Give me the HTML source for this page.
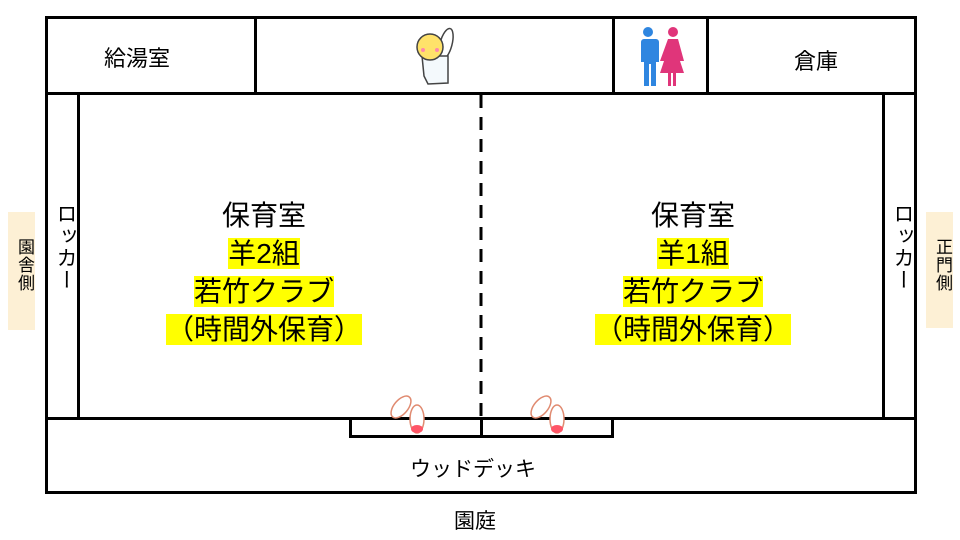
<!DOCTYPE html>
<html><head><meta charset="utf-8"><style>
body{margin:0;width:960px;height:540px;background:#fff;font-family:"Liberation Sans","Noto Sans CJK JP",sans-serif;position:relative;overflow:hidden}
.a{position:absolute;box-sizing:border-box}
.t{position:absolute;color:#000;white-space:nowrap}
.hl{background:#ffff00}
.room{position:absolute;text-align:center;font-size:28px;line-height:38px;width:300px}
.v{writing-mode:vertical-rl;font-size:18px;letter-spacing:1px}
</style></head><body>
<div class="a" style="left:45px;top:16px;width:872px;height:478px;border:3px solid #000"></div>
<div class="a" style="left:45px;top:92px;width:872px;height:3px;background:#000"></div>
<div class="a" style="left:254px;top:16px;width:3px;height:78px;background:#000"></div>
<div class="a" style="left:612px;top:16px;width:3px;height:78px;background:#000"></div>
<div class="a" style="left:706px;top:16px;width:3px;height:78px;background:#000"></div>
<div class="a" style="left:45px;top:92px;width:35px;height:328px;border:3px solid #000"></div>
<div class="a" style="left:882px;top:92px;width:35px;height:328px;border:3px solid #000"></div>
<div class="a" style="left:45px;top:417px;width:872px;height:3px;background:#000"></div>
<svg class="a" style="left:478px;top:95px" width="6" height="322"><line x1="3" y1="0" x2="3" y2="322" stroke="#000" stroke-width="3" stroke-dasharray="13 9"/></svg>
<div class="a" style="left:349px;top:417px;width:265px;height:21px;border:3px solid #000;background:#fff"></div>
<div class="a" style="left:480px;top:417px;width:3px;height:21px;background:#000"></div>
<div class="t" style="left:104px;top:41px;font-size:22px">給湯室</div>
<div class="t" style="left:794px;top:44px;font-size:22px">倉庫</div>
<svg class="a" style="left:404px;top:26px" width="60" height="62" viewBox="0 0 56 62"><ellipse cx="40" cy="18" rx="6" ry="16" fill="#fff" stroke="#444" stroke-width="1.5" transform="rotate(15 40 18)"/><path d="M16 30 L42 30 L42 57 L22 58 L18 50 Z" fill="#f4f9fc" stroke="#444" stroke-width="1.5"/><circle cx="24" cy="21" r="13" fill="#ffe26a" stroke="#444" stroke-width="1.5"/><circle cx="17" cy="24" r="2" fill="#f8a"/><circle cx="31" cy="24" r="2" fill="#f8a"/></svg>
<svg class="a" style="left:628px;top:26px" width="66" height="62" viewBox="0 0 66 62"><circle cx="20" cy="6" r="5" fill="#2f86e0"/><path d="M12 13h16a3 3 0 0 1 3 3v20h-3v24h-5v-22h-2v22h-5v-24h-3v-20a3 3 0 0 1 3-3z" fill="#2f86e0"/><circle cx="45" cy="6" r="5" fill="#e0357a"/><path d="M40 13h10l6 22h-4l4 12h-8v13h-3v-13h-2v13h-3v-13h-8l4-12h-4z" fill="#e0357a"/></svg>
<div class="t v" style="left:50px;top:203px;font-size:21px">ロッカー</div>
<div class="t v" style="left:887px;top:203px;font-size:21px">ロッカー</div>
<div class="room" style="left:114px;top:197px">保育室<br><span class="hl">羊2組</span><br><span class="hl">若竹クラブ</span><br><span class="hl">（時間外保育）</span></div>
<div class="room" style="left:543px;top:197px">保育室<br><span class="hl">羊1組</span><br><span class="hl">若竹クラブ</span><br><span class="hl">（時間外保育）</span></div>
<div class="t" style="left:410px;top:453px;font-size:21px">ウッドデッキ</div>
<div class="t" style="left:454px;top:505px;font-size:21px">園庭</div>
<div class="a" style="left:8px;top:212px;width:27px;height:118px;background:#fdf0d5"></div>
<div class="t v" style="left:12px;top:238px;font-size:17px">園舎側</div>
<div class="a" style="left:926px;top:212px;width:27px;height:116px;background:#fdf0d5"></div>
<div class="t v" style="left:930px;top:238px;font-size:17px">正門側</div>
<svg class="a" style="left:388px;top:395px" width="44" height="46"><g fill="#fff" stroke="#e08a70" stroke-width="1.5"><ellipse cx="13" cy="12" rx="7" ry="13" transform="rotate(40 13 12)"/><ellipse cx="29" cy="24" rx="7" ry="14"/></g><ellipse cx="29" cy="34" rx="6" ry="4" fill="#f56"/></svg>
<svg class="a" style="left:528px;top:395px" width="44" height="46"><g fill="#fff" stroke="#e08a70" stroke-width="1.5"><ellipse cx="13" cy="12" rx="7" ry="13" transform="rotate(40 13 12)"/><ellipse cx="29" cy="24" rx="7" ry="14"/></g><ellipse cx="29" cy="34" rx="6" ry="4" fill="#f56"/></svg>
</body></html>
